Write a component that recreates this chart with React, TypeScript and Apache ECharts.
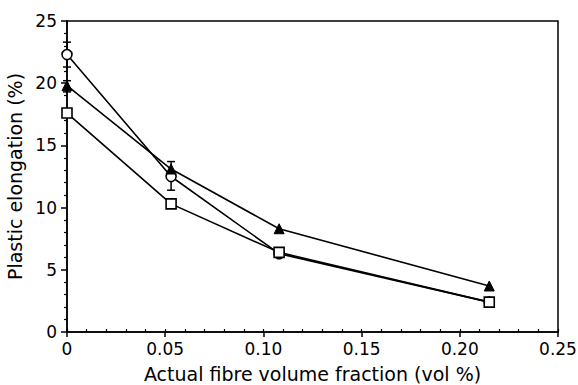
import React, { useEffect, useRef } from "react";
import * as echarts from "echarts";

const xValues = [0, 0.053, 0.108, 0.215];
const circleValues = [22.3, 12.5, 6.3, 2.4];
const triangleValues = [19.8, 13.1, 8.3, 3.7];
const squareValues = [17.6, 10.3, 6.4, 2.4];
// error bars: [x, low, high]
const errorBars = [
  [0, 21.3, 23.3],
  [0.053, 11.4, 13.7],
  [0, 19.3, 20.2],
];
const xTickLabels: Record<string, string> = {
  "0": "0",
  "0.05": "0.05",
  "0.1": "0.10",
  "0.15": "0.15",
  "0.2": "0.20",
  "0.25": "0.25",
};

const FONT = "DejaVu Sans, Liberation Sans, Arial, sans-serif";

export default function App() {
  const ref = useRef<HTMLDivElement>(null);
  useEffect(() => {
    if (!ref.current) return;
    const chart = echarts.init(ref.current, null, { renderer: "svg" });
    const pts = (ys: number[]) => xValues.map((x, i) => [x, ys[i]]);
    const lineStyle = { color: "#000", width: 1.6 };
    chart.setOption({
      animation: false,
      backgroundColor: "#fff",
      grid: {
        left: 67,
        right: 20,
        top: 21,
        bottom: 53,
        containLabel: false,
        outerBoundsMode: "none",
        show: true,
        borderColor: "#000",
        borderWidth: 1.5,
      },
      xAxis: [
        {
          type: "value",
          min: 0,
          max: 0.25,
          interval: 0.05,
          position: "bottom",
          name: "Actual fibre volume fraction (vol %)",
          nameLocation: "middle",
          nameGap: 32,
          nameTextStyle: { color: "#000", fontSize: 19, fontFamily: FONT },
          axisLine: { show: true, onZero: false, lineStyle: { color: "#000", width: 1.5 } },
          axisTick: { show: true, inside: false, length: 5, lineStyle: { color: "#000", width: 1.5 } },
          axisLabel: {
            color: "#000",
            fontSize: 17,
            fontFamily: FONT,
            margin: 8,
            formatter: (v: number) => xTickLabels[String(Math.round(v * 100) / 100)] ?? String(v),
          },
          splitLine: { show: false },
        },
        {
          type: "value",
          min: 0,
          max: 0.25,
          interval: 0.01,
          position: "bottom",
          axisLine: { show: false },
          axisTick: { show: true, inside: true, length: 3, lineStyle: { color: "#000", width: 1.2 } },
          axisLabel: { show: false },
          splitLine: { show: false },
        },
      ],
      yAxis: [
        {
          type: "value",
          min: 0,
          max: 25,
          interval: 5,
          name: "Plastic elongation (%)",
          nameLocation: "middle",
          nameGap: 35,
          nameTextStyle: { color: "#000", fontSize: 19, fontFamily: FONT },
          axisLine: { show: true, onZero: false, lineStyle: { color: "#000", width: 1.5 } },
          axisTick: { show: true, inside: false, length: 6, lineStyle: { color: "#000", width: 1.5 } },
          minorTick: { show: true, splitNumber: 5, length: 3, lineStyle: { color: "#000", width: 1.2 } },
          axisLabel: { color: "#000", fontSize: 17, fontFamily: FONT, margin: 10 },
          splitLine: { show: false },
          minorSplitLine: { show: false },
        },
      ],
      series: [
        {
          type: "custom",
          xAxisIndex: 0,
          yAxisIndex: 0,
          data: errorBars,
          z: 5,
          renderItem: (params: any, api: any) => {
            const x = api.value(0);
            const lo = api.coord([x, api.value(1)]);
            const hi = api.coord([x, api.value(2)]);
            const w = 4;
            const style = { stroke: "#000", lineWidth: 1.5 };
            return {
              type: "group",
              children: [
                { type: "line", shape: { x1: lo[0], y1: lo[1], x2: hi[0], y2: hi[1] }, style },
                { type: "line", shape: { x1: lo[0] - w, y1: lo[1], x2: lo[0] + w, y2: lo[1] }, style },
                { type: "line", shape: { x1: hi[0] - w, y1: hi[1], x2: hi[0] + w, y2: hi[1] }, style },
              ],
            };
          },
        },
        {
          type: "line",
          name: "circle",
          data: pts(circleValues),
          symbol: "circle",
          symbolSize: 10,
          lineStyle,
          itemStyle: { color: "#fff", borderColor: "#000", borderWidth: 1.6 },
          z: 10,
        },
        {
          type: "line",
          name: "triangle",
          data: pts(triangleValues),
          symbol: "triangle",
          symbolSize: 10,
          lineStyle,
          itemStyle: { color: "#000", borderColor: "#000", borderWidth: 1 },
          z: 10,
        },
        {
          type: "line",
          name: "square",
          data: pts(squareValues),
          symbol: "rect",
          symbolSize: 10,
          lineStyle,
          itemStyle: { color: "#fff", borderColor: "#000", borderWidth: 1.6 },
          z: 11,
        },
      ],
    });
    return () => chart.dispose();
  }, []);
  return (
    <div
      ref={ref}
      style={{ position: "absolute", left: 0, top: 0, width: 578, height: 385 }}
    />
  );
}
